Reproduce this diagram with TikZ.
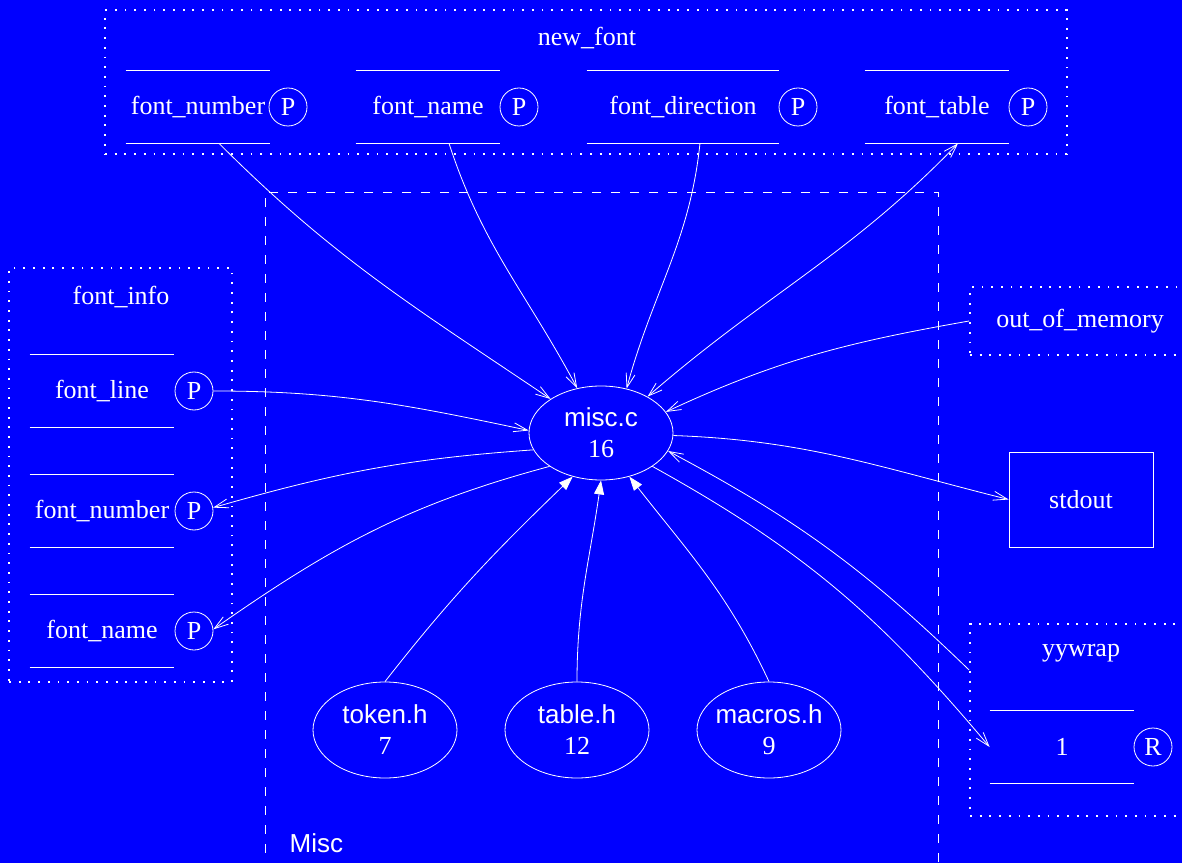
\documentclass[tikz,border=0pt]{standalone}
\usepackage{fontspec}
\setmainfont{Liberation Serif}
\setsansfont{Liberation Sans}
\usetikzlibrary{arrows.meta,shapes.geometric}

\begin{document}
\begin{tikzpicture}[
  x=1pt, y=1pt, color=white, line width=0.8pt,
  font=\fontsize{26}{31}\selectfont,
  registro/.style={draw, dash pattern=on 1.8pt off 7.9pt, line width=1.8pt, inner sep=0pt},
  grupo/.style={draw, dash pattern=on 9pt off 10pt, inner sep=0pt},
  campo/.style={minimum width=144pt, minimum height=72pt, inner sep=0pt,
    append after command={(\tikzlastnode.north west) edge (\tikzlastnode.north east)
      (\tikzlastnode.south west) edge (\tikzlastnode.south east)}},
  puerto/.style={circle, draw, minimum size=38pt, inner sep=0pt},
  archivo/.style={ellipse, draw, minimum width=144pt, minimum height=96pt, inner ysep=0pt, inner xsep=-12pt, align=center},
  flecha/.style={-{Straight Barb[length=14pt,width=9pt]}},
  flechallena/.style={-{Triangle[length=14pt,width=10pt]}}
]
\useasboundingbox (0,0) rectangle (1182,863);
\fill[blue] (0,0) rectangle (1182,863);

% el grupo Misc
\node[grupo, minimum width=673pt, minimum height=681pt] (misccl) at (601.5,330.5) {};
\node[font=\fontsize{26}{31}\sffamily, anchor=base west] (misclbl) at (286,11) {Misc};

% new_font
\node[registro, minimum width=962pt, minimum height=144pt] (newfont) at (586,781) {};
\node (newfontlbl) at (587,825) {new\_font};
\node[campo] (nfnumber) at (198,756) {font\_number};
\node[puerto] (nfnumberp) at (288,756) {P};
\node[campo] (nfname) at (428,756) {font\_name};
\node[puerto] (nfnamep) at (519,756) {P};
\node[campo, minimum width=192pt] (nfdir) at (683,756) {font\_direction};
\node[puerto] (nfdirp) at (798,756) {P};
\node[campo] (nftable) at (937,756) {font\_table};
\node[puerto] (nftablep) at (1028,756) {P};

% font_info
\node[registro, minimum width=223pt, minimum height=414pt] (fontinfo) at (120.5,388) {};
\node (fontinfolbl) at (121,566) {font\_info};
\node[campo] (fline) at (102,472) {font\_line};
\node[puerto] (flinep) at (194,472) {P};
\node[campo] (fnum) at (102,352) {font\_number};
\node[puerto] (fnump) at (194,352) {P};
\node[campo] (fname) at (102,232) {font\_name};
\node[puerto] (fnamep) at (194,232) {P};

% out_of_memory, stdout, yywrap
\node[registro, minimum width=220pt, minimum height=68pt] (oom) at (1080,542) {out\_of\_memory};
\node[draw, minimum width=144pt, minimum height=95pt] (stdout) at (1081,363.5) {stdout};
\node[registro, minimum width=220pt, minimum height=192pt] (yywrap) at (1080,143) {};
\node (yywraplbl) at (1081,210) {yywrap};
\node[campo] (one) at (1062,116) {1};
\node[puerto] (oner) at (1153,116) {R};

% archivos
\node[archivo, minimum height=94pt] (misc) at (601,430) {{\sffamily misc.c}\\16};
\node[archivo] (token) at (385,133) {{\sffamily token.h}\\7};
\node[archivo] (table) at (577,133) {{\sffamily table.h}\\12};
\node[archivo] (macros) at (769,133) {{\sffamily macros.h}\\9};

% llamadas
\draw[flecha] (nfnumber.-60) to[out=-45,in=146] (misc.146);
\draw[flecha] (nfname.-60) to[out=-72,in=118] (misc.118);
\draw[flecha] (nfdir.-65) to[out=-96,in=75] (misc.60);
\draw[{Straight Barb[length=14pt,width=9pt]}-{Straight Barb[length=14pt,width=9pt]}]
  (misc.38) to[out=41,in=-134] (nftable.-60);
\draw[flecha] (oom.west) to[out=190,in=25] (misc.18);
\draw[flecha] (flinep.east) to[out=0,in=168] (misc.178);
\draw[flecha] (misc.194) to[out=184,in=16] (fnump.10);
\draw[flecha] (misc.213) to[out=195,in=35] (fnamep.5);
\draw[flecha] (misc.-2) to[out=-2,in=166] (stdout.west);
\draw[flecha] ([yshift=50pt]yywrap.west) to[out=136,in=-28] (misc.-15);
\draw[flecha] (misc.-33) to[out=-29,in=130] (one.west);

% includes
\draw[flechallena] (token.north) to[out=52,in=-136] (misc.237);
\draw[flechallena] (table.north) to[out=90,in=-98] (misc.-90);
\draw[flechallena] (macros.north) to[out=115,in=-52] (misc.-57);
\end{tikzpicture}
\end{document}
